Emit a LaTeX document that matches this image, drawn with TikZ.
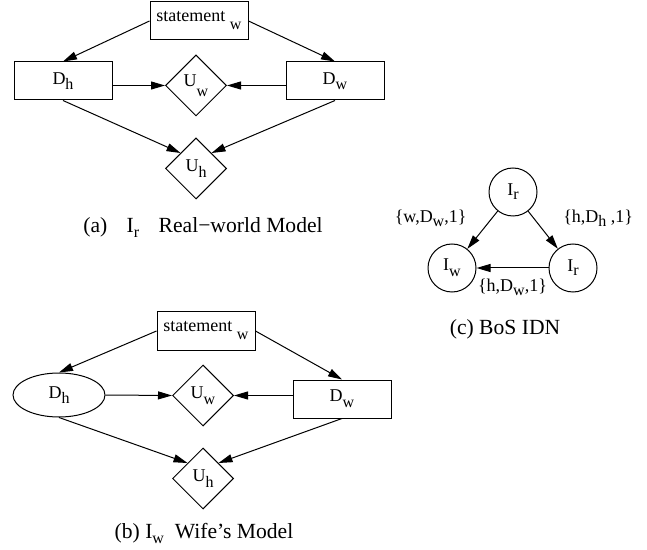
\documentclass[tikz,border=0pt]{standalone}
\usepackage{fontspec}
\setmainfont{Liberation Serif}
\usetikzlibrary{shapes.geometric,arrows.meta}
% lowered index, as in D_h
\newcommand{\lowsub}[2][3pt]{\raisebox{-#1}{\fontsize{8}{8}\selectfont #2}}

\begin{document}
\begin{tikzpicture}[x=.5pt,y=-.5pt,line width=.5pt,font=\fontsize{9}{11}\selectfont,
  box/.style={draw,rectangle,minimum width=49pt,minimum height=19pt,inner sep=0pt},
  chance/.style={draw,ellipse,minimum width=46pt,minimum height=22pt,inner sep=0pt},
  util/.style={draw,diamond,minimum width=30.5pt,minimum height=30.5pt,inner sep=0pt},
  agent/.style={draw,circle,minimum size=24pt,inner sep=0pt},
  arr/.style={-{Triangle[length=7pt,width=4pt]}},
  subcap/.style={anchor=base,font=\fontsize{10.8}{13}\selectfont}]
\useasboundingbox (0,0) rectangle (647,550);
% (a) real-world model
\node[box] (st1) at (199,21) {statement \lowsub[4pt]{w}};
\node[box] (dh1) at (63,81) {D\lowsub[2.5pt]{h}};
\node[box] (dw1) at (335,81) {D\lowsub[2.5pt]{w}};
\node[util] (uw1) at (196,85.5) {U\lowsub[5pt]{w}};
\node[util] (uh1) at (196,168.5) {U\lowsub[3pt]{h}};
\draw[arr] (st1.west) -- (dh1.north);
\draw[arr] (st1.east) -- (dw1.north);
\draw[arr] (dh1.east |- uw1) -- (uw1.west);
\draw[arr] (dw1.west |- uw1) -- (uw1.east);
\draw[arr] (dh1.south) -- (uh1.north west);
\draw[arr] (dw1.south) -- (uh1.north east);
\node[subcap] (capa) at (203,233) {(a)\hspace{.9em}I\lowsub[2.5pt]{r}\hspace{.9em}Real−world Model};
% (b) wife's model
\node[box] (st2) at (206,331) {statement \lowsub[4pt]{w}};
\node[chance] (dh2) at (59,395) {D\lowsub[2.5pt]{h}};
\node[box] (dw2) at (342,399) {D\lowsub[3pt]{w}};
\node[util] (uw2) at (203,395.5) {U\lowsub[3pt]{w}};
\node[util] (uh2) at (203,478.5) {U\lowsub[3pt]{h}};
\draw[arr] (st2.west) -- (dh2.north);
\draw[arr] (st2.east) -- (dw2.north);
\draw[arr] (dh2.east) -- (uw2.west);
\draw[arr] (dw2.west |- uw2) -- (uw2.east);
\draw[arr] (dh2.south) -- (uh2.north west);
\draw[arr] (dw2.south) -- (uh2.north east);
\node[subcap] (capb) at (204,538) {(b) I\lowsub[2.5pt]{w}\hspace{.5em}Wife’s Model};
% (c) the IDN
\node[agent] (ir1) at (513,192) {I\lowsub[2pt]{r}};
\node[agent] (iw) at (452,268) {I\lowsub[3pt]{w}};
\node[agent] (ir2) at (573,268) {I\lowsub[2pt]{r}};
\draw[arr] (ir1) -- node[pos=.2,left=9pt] {\{w,D\lowsub[2pt]{w},1\}} (iw);
\draw[arr] (ir1) -- node[pos=.2,right=11pt] {\{h,D\lowsub[2pt]{h} ,1\}} (ir2);
\draw[arr] (ir2) -- node[below=2pt] {\{h,D\lowsub[2pt]{w},1\}} (iw);
\node[subcap] (capc) at (505,335) {(c) BoS IDN};
\end{tikzpicture}
\end{document}
